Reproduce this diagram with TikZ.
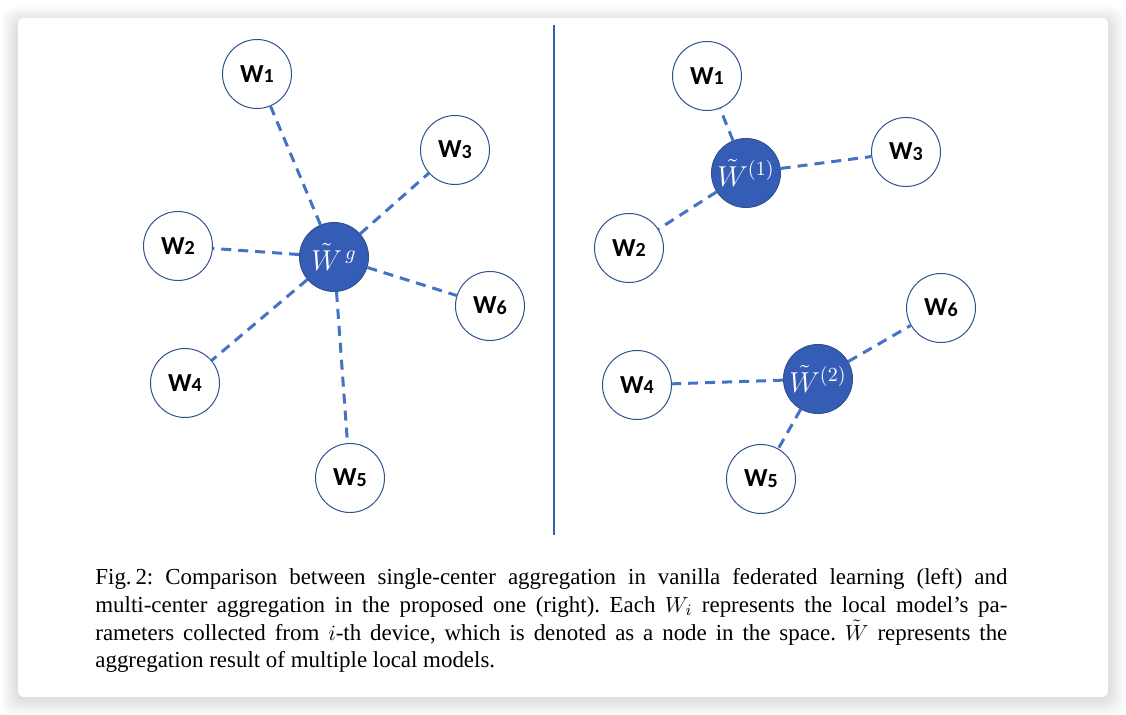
\documentclass[tikz,border=0pt]{standalone}
\usepackage{fontspec}
\setmainfont{Liberation Serif}
\newfontfamily\labfont{Carlito}
\definecolor{lineblue}{HTML}{4472C4}
\definecolor{hubblue}{HTML}{355DB5}
\definecolor{rimblue}{HTML}{2F528F}
\newcommand{\wlab}[1]{W\raisebox{-0.4pt}{\fontsize{10}{10}\selectfont #1}}
\begin{document}
\begin{tikzpicture}[x=0.5pt,y=-0.5pt]
  \useasboundingbox (0,0) rectangle (1126,715);

  % card and its shadow
  \foreach \s in {2,4,...,16}
    \fill[black,opacity=0.016,rounded corners=6pt] (18-\s,18-\s+5) rectangle (1108+\s,697+\s+2);
  \fill[white,rounded corners=3pt] (18,18) rectangle (1108,697);

  % divider
  \coordinate (top) at (554,25);
  \coordinate (bottom) at (554,535);
  \draw[hubblue,line width=1.2pt] (top) -- (bottom);

  \begin{scope}[every node/.style={circle,draw=rimblue,line width=0.5pt,fill=white,
      minimum size=34.5pt,inner sep=0pt,font=\labfont\bfseries\fontsize{13}{14}\selectfont}]
    % left
    \node (l1) at (257,74)  {\wlab{1}};
    \node (l2) at (178,246) {\wlab{2}};
    \node (l3) at (455,150) {\wlab{3}};
    \node (l4) at (185,383) {\wlab{4}};
    \node (l5) at (350,478) {\wlab{5}};
    \node (l6) at (490,306) {\wlab{6}};
    % right
    \node (r1) at (707,76)  {\wlab{1}};
    \node (r2) at (629,248) {\wlab{2}};
    \node (r3) at (906,152) {\wlab{3}};
    \node (r4) at (637,385) {\wlab{4}};
    \node (r5) at (761,479) {\wlab{5}};
    \node (r6) at (941,308) {\wlab{6}};
  \end{scope}

  \begin{scope}[every node/.style={circle,draw=rimblue,line width=0.5pt,fill=hubblue,
      minimum size=34.5pt,inner sep=0pt,text=white,font=\fontsize{14}{14}\selectfont}]
    \node (lg) at (334,257) {$\tilde{W}^{\,g}$};
    \node (ra) at (746,173) {$\tilde{W}^{(1)}$};
    \node (rb) at (818,379) {$\tilde{W}^{(2)}$};
  \end{scope}

  \begin{scope}[every edge/.style={draw=lineblue,line width=1.5pt,
      dash pattern=on 5pt off 3.5pt}]
    \path (lg) edge (l1) edge (l2) edge (l3) edge (l4) edge (l5) edge (l6);
    \path (ra) edge (r1) edge (r2) edge (r3);
    \path (rb) edge (r4) edge (r5) edge (r6);
  \end{scope}

  % caption
  \node[anchor=north west,text width=456pt,align=justify,inner sep=0pt,
    font=\fontsize{11.46}{13.9}\selectfont\frenchspacing] (caption) at (95,568)
    {Fig.\,2: Comparison between single-center aggregation in vanilla federated learning (left) and\linebreak
     multi-center aggregation in the proposed one (right). Each $W_i$ represents the local model's pa-\linebreak
     rameters collected from $i$-th device, which is denoted as a node in the space. $\tilde{W}$ represents the\linebreak
     aggregation result of multiple local models.};
\end{tikzpicture}
\end{document}
